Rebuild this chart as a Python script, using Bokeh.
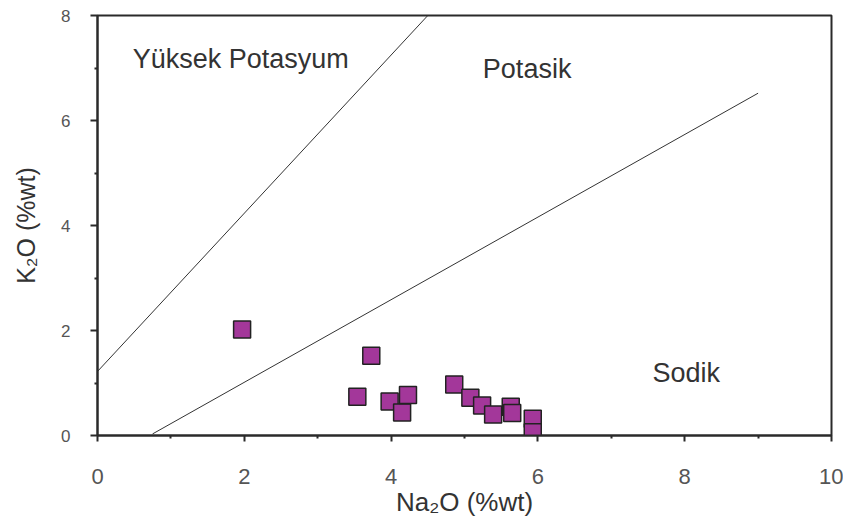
from bokeh.plotting import figure
from bokeh.models import Range1d, FixedTicker, ColumnDataSource
from bokeh.core.properties import value
from bokeh.embed import file_html
from bokeh.resources import INLINE

# Data
na2o = [1.97, 3.73, 3.54, 3.98, 4.15, 4.23, 4.86, 5.08, 5.24, 5.39, 5.63, 5.65, 5.93, 5.93]
k2o = [2.02, 1.52, 0.74, 0.65, 0.44, 0.77, 0.97, 0.72, 0.57, 0.40, 0.55, 0.43, 0.32, 0.06]

# Field boundaries (Na2O, K2O)
line1_x = [0.0, 4.5]
line1_y = [1.22, 8.0]
line2_x = [0.75, 9.0]
line2_y = [0.03, 6.52]

region_labels = ["Yüksek Potasyum", "Potasik", "Sodik"]
region_x = [0.48, 5.25, 7.56]
region_y = [7.17, 6.98, 1.19]

x_ticks = [0, 2, 4, 6, 8, 10]
x_minor = [1, 3, 5, 7, 9]
y_ticks = [0, 2, 4, 6, 8]
y_minor = [1, 3, 5, 7]

x_title = "Na₂O (%wt)"
y_title = "K₂O (%wt)"

FONT = "Liberation Sans"

p = figure(width=843, height=528, output_backend="svg", toolbar_location=None,
           x_range=Range1d(0, 10), y_range=Range1d(0, 8),
           min_border_left=97, min_border_right=12, min_border_top=15, min_border_bottom=93)
p.background_fill_color = "white"
p.border_fill_color = "white"
p.outline_line_color = "#2a2a2a"
p.outline_line_width = 2
p.xgrid.visible = False
p.ygrid.visible = False

p.xaxis.ticker = FixedTicker(ticks=x_ticks, minor_ticks=x_minor)
p.yaxis.ticker = FixedTicker(ticks=y_ticks, minor_ticks=y_minor)

for ax in (p.xaxis, p.yaxis):
    ax.axis_line_color = "#2a2a2a"
    ax.axis_line_width = 2
    ax.major_tick_line_color = "#2a2a2a"
    ax.major_tick_line_width = 2
    ax.minor_tick_line_color = "#2a2a2a"
    ax.minor_tick_line_width = 2
    ax.major_tick_in = 0
    ax.minor_tick_in = 0
    ax.major_label_text_font = FONT
    ax.major_label_text_color = "#555555"
    ax.axis_label_text_font = FONT
    ax.axis_label_text_font_style = "normal"
    ax.axis_label_text_color = "#333333"

p.xaxis.major_tick_out = 6
p.xaxis.minor_tick_out = 3
p.xaxis.major_label_standoff = 27
p.xaxis.major_label_text_font_size = "22px"
p.xaxis.axis_label = x_title
p.xaxis.axis_label_text_font_size = "26px"
p.xaxis.axis_label_standoff = 0

p.yaxis.major_tick_out = 7
p.yaxis.minor_tick_out = 3
p.yaxis.major_label_standoff = 20
p.yaxis.major_label_text_font_size = "17px"
p.yaxis.axis_label = y_title
p.yaxis.axis_label_text_font_size = "25px"
p.yaxis.axis_label_standoff = 18

p.line(line1_x, line1_y, line_color="#333333", line_width=1)
p.line(line2_x, line2_y, line_color="#333333", line_width=1)

src = ColumnDataSource(data=dict(x=region_x, y=region_y, t=region_labels))
p.text(x="x", y="y", text="t", source=src, text_font=value(FONT), text_font_size="27px",
       text_color="#333333", text_align="left", text_baseline="alphabetic")

p.scatter(na2o, k2o, marker="square", size=17, fill_color="#A3379A",
          line_color="#222222", line_width=1.5)

open("out.html", "w").write(file_html(p, INLINE))
